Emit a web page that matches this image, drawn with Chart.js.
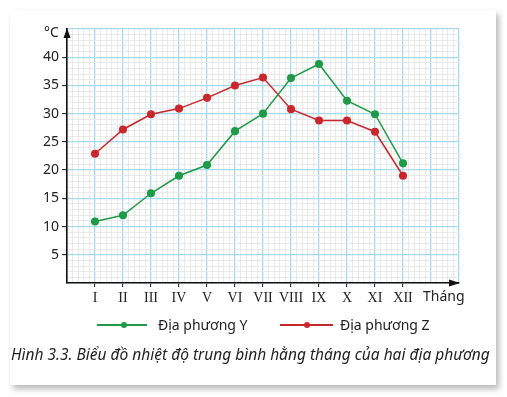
<!DOCTYPE html>
<html><head><meta charset="utf-8">
<script src="https://cdn.jsdelivr.net/npm/chart.js@4/dist/chart.umd.min.js"></script>
<style>
html,body{margin:0;padding:0;background:#fff;width:507px;height:397px;overflow:hidden;font-family:"Noto Sans",sans-serif;}
#card{position:absolute;left:10px;top:10px;width:486px;height:375px;background:#fff;box-shadow:3px 4px 6px rgba(0,0,0,0.28);}
#wrap{position:absolute;left:0;top:0;width:507px;height:397px;}
.t{position:absolute;white-space:nowrap;color:#222;}
.leg{position:absolute;height:1.5px;}
.dot{position:absolute;width:6px;height:6px;border-radius:50%;}
</style></head><body>
<div id="card"></div>
<div id="wrap"><canvas id="c" width="507" height="397"></canvas></div>
<span class="t" style="left:44px;top:22px;font-size:14px;">°C</span>
<span class="t" style="left:423px;top:286px;font-size:14px;">Tháng</span>
<div class="leg" style="left:97px;top:324px;width:50px;background:#1f9a48"></div>
<div class="dot" style="left:121px;top:322px;background:#1f9a48"></div>
<span class="t" style="left:158px;top:315px;font-size:14px;">Địa phương Y</span>
<div class="leg" style="left:280px;top:324px;width:53px;background:#c8282d"></div>
<div class="dot" style="left:304px;top:322px;background:#c8282d"></div>
<span class="t" style="left:340px;top:315px;font-size:14px;">Địa phương Z</span>
<span class="t" style="left:11px;top:343px;font-size:15.5px;font-style:italic;">Hình 3.3. Biểu đồ nhiệt độ trung bình hằng tháng của hai địa phương</span>
<script>
const months = ['I','II','III','IV','V','VI','VII','VIII','IX','X','XI','XII'];
const seriesY = [10.9, 12, 15.9, 19, 20.9, 26.9, 30, 36.3, 38.8, 32.3, 29.9, 21.2];
const seriesZ = [22.9, 27.2, 29.9, 30.9, 32.8, 35, 36.4, 30.8, 28.8, 28.8, 26.8, 19];
const yTickLabels = [5, 10, 15, 20, 25, 30, 35, 40];
const nameY = 'Địa phương Y';
const nameZ = 'Địa phương Z';

const GREEN = '#1f9a48', RED = '#c8282d';
const MAJOR = '#a6daee', MINOR = '#e4e4e4';
const isInt = v => Math.abs(v - Math.round(v)) < 1e-6;

const toPts = arr => arr.map((v, i) => ({x: i + 1, y: v}));

const arrows = {
  id: 'arrows',
  afterDraw(chart) {
    const ctx = chart.ctx, a = chart.chartArea;
    ctx.save();
    ctx.fillStyle = '#111';
    ctx.beginPath();
    ctx.moveTo(a.left, a.top - 1);
    ctx.lineTo(a.left - 3.5, a.top + 9);
    ctx.lineTo(a.left + 3.5, a.top + 9);
    ctx.closePath(); ctx.fill();
    ctx.beginPath();
    ctx.moveTo(a.right + 1, a.bottom);
    ctx.lineTo(a.right - 10, a.bottom - 3.5);
    ctx.lineTo(a.right - 10, a.bottom + 3.5);
    ctx.closePath(); ctx.fill();
    ctx.restore();
  }
};

new Chart(document.getElementById('c'), {
  type: 'line',
  data: {
    datasets: [
      {label: nameY, data: toPts(seriesY), borderColor: GREEN, backgroundColor: GREEN, borderWidth: 1.5, pointRadius: 3.3, pointHoverRadius: 3.3, tension: 0},
      {label: nameZ, data: toPts(seriesZ), borderColor: RED, backgroundColor: RED, borderWidth: 1.5, pointRadius: 3.3, pointHoverRadius: 3.3, tension: 0}
    ]
  },
  options: {
    responsive: false,
    animation: false,
    events: [],
    layout: {padding: {left: 0, top: 29, right: 48, bottom: 84}},
    plugins: {legend: {display: false}, tooltip: {enabled: false}},
    scales: {
      x: {
        type: 'linear', min: 0, max: 14,
        afterFit(s) { s.height = 30; },
        ticks: {
          stepSize: 0.2, autoSkip: false, maxRotation: 0, padding: 3,
          color: '#222', font: {family: '"Liberation Serif", serif', size: 14},
          callback(v) {
            if (!isInt(v)) return '';
            const n = Math.round(v);
            return (n >= 1 && n <= 12) ? months[n - 1] : '';
          }
        },
        grid: {
          color: c => isInt(c.tick.value) ? MAJOR : MINOR,
          lineWidth: c => isInt(c.tick.value) ? 1.3 : 0.8,
          tickLength: 4,
          tickColor: c => { const v = c.tick.value; return (isInt(v) && v >= 1 && v <= 12) ? '#111' : 'rgba(0,0,0,0)'; },
          tickWidth: 1
        },
        border: {display: true, color: '#111', width: 1.6}
      },
      y: {
        min: 0, max: 45,
        afterFit(s) { s.width = 67; },
        ticks: {
          stepSize: 1, autoSkip: false, padding: 3,
          color: '#222', font: {family: '"Noto Sans", sans-serif', size: 14},
          callback(v) { return yTickLabels.includes(v) ? String(v) : ''; }
        },
        grid: {
          color: c => (c.tick.value % 5 === 0) ? MAJOR : MINOR,
          lineWidth: c => (c.tick.value % 5 === 0) ? 1.3 : 0.8,
          tickLength: 5,
          tickColor: c => yTickLabels.includes(c.tick.value) ? '#111' : 'rgba(0,0,0,0)',
          tickWidth: 1
        },
        border: {display: true, color: '#111', width: 1.6}
      }
    }
  },
  plugins: [arrows]
});
</script>
</body></html>
